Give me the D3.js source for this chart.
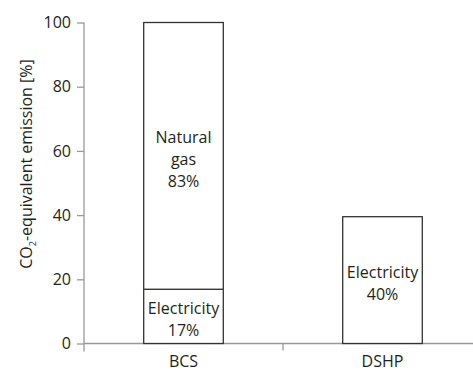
<!DOCTYPE html>
<html>
<head>
<meta charset="utf-8">
<script src="https://cdn.jsdelivr.net/npm/d3@7"></script>
<style>
  body { margin: 0; background: #fff; }
  text { font-family: "Open Sans", sans-serif; fill: #231f20; }
</style>
</head>
<body>
<div id="chart"></div>
<script>
// donnees
var categories = ["BCS", "DSHP"];
var segments = ["Electricity", "Natural gas"];
var bcsValues = [16.9, 83.1];
var dshpValues = [39.5, 0];
var segmentLabels = {
    "BCS": [["Electricity", "17%"], ["Natural", "gas", "83%"]],
    "DSHP": [["Electricity", "40%"], []]
};
var yTicks = [0, 20, 40, 60, 80, 100];

var margin = {top: 22.5, right: 0, bottom: 27.5, left: 84},
    width = 473 - margin.left - margin.right,
    height = 371 - margin.top - margin.bottom;

var svg = d3.select("#chart").append("svg")
    .attr("width", 473)
    .attr("height", 371)
    .append("g")
    .attr("transform", "translate(" + margin.left + "," + margin.top + ")");

var x = d3.scaleBand().domain(categories).range([0, 398]).paddingInner(0.6).paddingOuter(0.3);
var y = d3.scaleLinear().domain([0, 100]).range([height, 0]);

// axe y
var yAxis = svg.append("g")
    .call(d3.axisLeft(y).tickValues(yTicks).tickSize(7).tickPadding(6));
yAxis.select(".domain").attr("stroke", "#999").attr("stroke-width", 1.3).attr("d", "M0," + (height + 8) + "V0");
yAxis.selectAll(".tick line").attr("stroke", "#999").attr("stroke-width", 1.3);
yAxis.selectAll(".tick text").style("font-size", "16px").attr("fill", "#231f20");

// axe x
var xAxis = svg.append("g")
    .attr("transform", "translate(0," + height + ")")
    .call(d3.axisBottom(x).tickSize(0).tickPadding(12));
xAxis.select(".domain").attr("stroke", "#999").attr("stroke-width", 1.3).attr("d", "M0,0H" + width);
xAxis.selectAll(".tick text").style("font-size", "16px").attr("fill", "#231f20");
xAxis.append("line")
    .attr("x1", 199).attr("x2", 199).attr("y1", 0).attr("y2", 7)
    .attr("stroke", "#999").attr("stroke-width", 1.3);

// barres empilees
var stacks = [
    {cat: "BCS", values: bcsValues},
    {cat: "DSHP", values: dshpValues}
];
stacks.forEach(function(s) {
    var base = 0;
    s.values.forEach(function(v, i) {
        if (v <= 0) { return; }
        var y0 = y(base), y1 = y(base + v);
        svg.append("rect")
            .attr("x", x(s.cat))
            .attr("y", y1)
            .attr("width", x.bandwidth())
            .attr("height", y0 - y1)
            .attr("fill", "#fff")
            .attr("stroke", "#333")
            .attr("stroke-width", 1.3);
        var lines = segmentLabels[s.cat][i];
        var cy = (y0 + y1) / 2;
        var lh = 22;
        lines.forEach(function(t, k) {
            svg.append("text")
                .attr("x", x(s.cat) + x.bandwidth() / 2)
                .attr("y", cy + (k - (lines.length - 1) / 2) * lh)
                .attr("dy", "0.55em")
                .attr("text-anchor", "middle")
                .style("font-size", "16px")
                .text(t);
        });
        base += v;
    });
});

// titre axe y
svg.append("text")
    .attr("transform", "translate(-52," + (164 - margin.top) + ") rotate(-90)")
    .attr("text-anchor", "middle")
    .style("font-size", "16px")
    .html("CO<tspan font-size='9px' dy='4'>2</tspan><tspan dy='-4'>-equivalent emission [%]</tspan>");
</script>
</body>
</html>
